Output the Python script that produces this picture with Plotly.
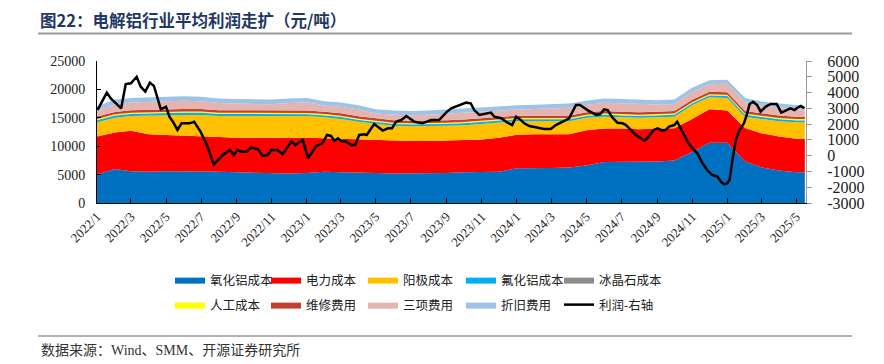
import pandas as pd
import plotly.graph_objects as go

# ---------------- data ----------------
month_dates = [d.strftime("%Y-%m-%d") for d in pd.date_range("2022-01-01", "2025-05-01", freq="MS")] + ["2025-05-16"]

alumina = [5000, 6000, 5600, 5500, 5600, 5600, 5600, 5500, 5400, 5300, 5200, 5200,
           5300, 5500, 5400, 5400, 5300, 5200, 5200, 5300, 5300, 5400, 5500, 5500,
           6100, 6100, 6150, 6250, 6600, 7200, 7250, 7250, 7300, 7500, 9000, 10600,
           10600, 7300, 6300, 5700, 5400, 5400]
power = [6700, 6400, 7100, 6600, 6350, 6200, 6100, 6100, 6100, 6200, 6400, 6300,
         6200, 5900, 5900, 5800, 5700, 5700, 5700, 5600, 5700, 5700, 5700, 6000,
         5900, 6000, 5950, 5850, 6200, 5900, 5850, 5750, 5800, 5650, 5800, 5900,
         5700, 5900, 6000, 6000, 5900, 5900]
anode = [2500, 2600, 2600, 3300, 3550, 3700, 3800, 3700, 3800, 3800, 3700, 3800,
         3800, 3700, 3500, 3100, 2900, 2700, 2600, 2600, 2600, 2600, 2700, 2600,
         2400, 2300, 2300, 2300, 2200, 2100, 2000, 2000, 2000, 2050, 2400, 2100,
         2200, 2000, 2500, 2700, 2900, 2900]
alf3 = [380, 380, 380, 380, 380, 380, 380, 380, 380, 380, 380, 380,
        320, 320, 320, 320, 320, 320, 320, 320, 320, 320, 320, 320,
        320, 320, 320, 320, 320, 320, 320, 320, 320, 320, 320, 330,
        340, 340, 340, 340, 340, 340]
cryolite = [50, 50, 50, 50, 50, 50, 50, 50, 50, 50, 50, 50,
            50, 50, 50, 50, 50, 50, 50, 50, 50, 50, 50, 50,
            50, 50, 50, 50, 50, 50, 50, 50, 50, 50, 50, 50,
            50, 50, 50, 50, 50, 50]
labor = [180, 180, 180, 180, 180, 180, 180, 180, 180, 180, 180, 180,
         180, 180, 180, 180, 180, 180, 180, 180, 180, 180, 180, 180,
         180, 180, 180, 180, 180, 180, 180, 180, 180, 180, 180, 180,
         180, 180, 180, 180, 180, 180]
maintenance = [430, 430, 430, 430, 430, 430, 430, 430, 430, 430, 430, 430,
               430, 430, 430, 430, 430, 430, 430, 430, 430, 430, 430, 430,
               430, 430, 430, 430, 430, 430, 430, 430, 430, 430, 430, 430,
               430, 430, 430, 430, 430, 430]
three_fees = [960, 1360, 1360, 1360, 1460, 1460, 1360, 1260, 1160, 1060, 1060, 1260,
              1470, 1070, 1170, 1170, 870, 970, 970, 1070, 1170, 1270, 1270, 1170,
              1070, 1170, 1270, 1370, 1270, 1470, 1470, 1470, 1270, 1270, 1370, 1300,
              1500, 1600, 1400, 1400, 1300, 1200]
depreciation = [800, 800, 800, 800, 800, 800, 800, 800, 800, 800, 800, 800,
                750, 750, 750, 750, 750, 750, 750, 750, 750, 750, 750, 750,
                750, 750, 750, 750, 750, 750, 750, 750, 750, 750, 750, 700,
                700, 700, 700, 700, 700, 700]

profit_dates = ["2022-01-02", "2022-01-18", "2022-01-25", "2022-02-12", "2022-02-20", "2022-03-01",
                "2022-03-11", "2022-03-18", "2022-03-26", "2022-04-03", "2022-04-10", "2022-04-22",
                "2022-05-01", "2022-05-07", "2022-05-13", "2022-05-21", "2022-05-28", "2022-06-11",
                "2022-06-19", "2022-06-30", "2022-07-10", "2022-07-23", "2022-08-08", "2022-08-20",
                "2022-08-27", "2022-09-02", "2022-09-09", "2022-09-18", "2022-09-26", "2022-10-08",
                "2022-10-16", "2022-10-25", "2022-10-31", "2022-11-11", "2022-11-20", "2022-12-05",
                "2022-12-12", "2022-12-25", "2023-01-03", "2023-01-17", "2023-01-28", "2023-02-05",
                "2023-02-12", "2023-02-18", "2023-02-24", "2023-03-03", "2023-03-10", "2023-03-19",
                "2023-03-26", "2023-04-02", "2023-04-11", "2023-04-15", "2023-04-28", "2023-05-13",
                "2023-05-22", "2023-05-29", "2023-06-05", "2023-06-14", "2023-06-23", "2023-07-07",
                "2023-07-21", "2023-08-05", "2023-08-19", "2023-08-31", "2023-09-09", "2023-09-20",
                "2023-10-05", "2023-10-13", "2023-10-19", "2023-10-28", "2023-11-06", "2023-11-17",
                "2023-11-23", "2023-12-05", "2023-12-16", "2023-12-24", "2023-12-31", "2024-01-07",
                "2024-01-14", "2024-01-23", "2024-02-03", "2024-02-17", "2024-02-29", "2024-03-09",
                "2024-03-21", "2024-04-01", "2024-04-13", "2024-04-20", "2024-05-03", "2024-05-18",
                "2024-05-25", "2024-06-01", "2024-06-07", "2024-06-15", "2024-06-24", "2024-07-03",
                "2024-07-09", "2024-07-17", "2024-07-26", "2024-08-04", "2024-08-10", "2024-08-15",
                "2024-08-26", "2024-09-02", "2024-09-10", "2024-09-16", "2024-09-22", "2024-10-01",
                "2024-10-06", "2024-10-15", "2024-10-24", "2024-11-01", "2024-11-10", "2024-11-19",
                "2024-11-27", "2024-12-06", "2024-12-15", "2024-12-21", "2024-12-27", "2025-01-01",
                "2025-01-05", "2025-01-10", "2025-01-16", "2025-01-21", "2025-01-30", "2025-02-04",
                "2025-02-09", "2025-02-15", "2025-02-22", "2025-02-28", "2025-03-09", "2025-03-18",
                "2025-03-28", "2025-04-05", "2025-04-13", "2025-04-21", "2025-04-28", "2025-05-03",
                "2025-05-09", "2025-05-15"]
profit = [2900, 4000, 3630, 3000, 4540, 4590, 5000, 4370, 4060, 4630, 4420, 2940,
          3100, 2470, 2150, 1630, 2050, 2050, 2150, 1520, 780, -550, 40, 360,
          40, 360, 250, 250, 530, 400, -20, 40, 360, 360, 90, 890,
          680, 990, -170, 610, 780, 1310, 1250, 950, 1100, 890, 890, 680,
          680, 1310, 1350, 1310, 2010, 1590, 1730, 1730, 2150, 2260, 2510, 2150,
          2050, 2260, 2260, 2730, 3000, 3150, 3360, 3320, 2890, 2580, 2640, 2730,
          2470, 2370, 2090, 1940, 2470, 2300, 2050, 1880, 1800, 1690, 1690, 1940,
          2150, 2370, 3210, 3210, 2890, 2580, 2640, 2940, 2890, 2430, 2090, 2050,
          1940, 1630, 1310, 1100, 950, 1100, 1630, 1730, 1590, 1630, 1840, 1940,
          2150, 1520, 890, 470, 150, -480, -910, -1230, -1330, -1650, -1820, -1750,
          -1540, -280, 990, 1520, 2050, 2580, 3280, 3420, 3210, 2790, 3110, 3280,
          3280, 2730, 2850, 3000, 2890, 3040, 3150, 3000]

series_names = ["氧化铝成本", "电力成本", "阳极成本", "氟化铝成本", "冰晶石成本",
                "人工成本", "维修费用", "三项费用", "折旧费用"]
series_values = [alumina, power, anode, alf3, cryolite, labor, maintenance, three_fees, depreciation]
series_colors = ["#0070C0", "#FF0000", "#FFC000", "#00B0F0", "#8C8C8C",
                 "#FFFF00", "#C0422F", "#E6B4B0", "#9DC3E6"]
profit_name = "利润-右轴"

left_ticks = [0, 5000, 10000, 15000, 20000, 25000]
right_ticks = [-3000, -2000, -1000, 0, 1000, 2000, 3000, 4000, 5000, 6000]
right_tick_text = ["-3000", "-2000", "-1000", "0", "1000", "2000", "3000", "4000", "5000", "6000"]

title_text = "图22：电解铝行业平均利润走扩（元/吨）"
source_text = "数据来源：Wind、SMM、开源证券研究所"

# ---------------- geometry (reference pixel coords; page body has an 8px margin) ----------------
OFF = 8
W, H = 884 - OFF, 364 - OFF
PL, PR, PT, PB = 97, 806, 61, 203


def px_x(p):
    return (p - PL) / (PR - PL)


def px_y(p):
    return (PB - p) / (PB - PT)


legend_cols = [170, 266, 363, 461, 559]
legend_rows = [265, 290]

fig = go.Figure()
all_names = series_names + [profit_name]
for i, (nm, vals, col) in enumerate(zip(series_names, series_values, series_colors)):
    fig.add_trace(go.Scatter(
        x=month_dates, y=vals, name=nm, mode="lines", stackgroup="cost",
        line=dict(width=0, color=col), fillcolor=col,
        legend="legend" if i == 0 else "legend%d" % (i + 1), hoverinfo="skip"))

fig.add_trace(go.Scatter(
    x=profit_dates, y=profit, name=profit_name, mode="lines", yaxis="y2",
    line=dict(color="#000000", width=2.5), legend="legend10", hoverinfo="skip"))

tick_font = dict(family="Liberation Serif, Times New Roman, serif", color="#222222")
legend_font = dict(family="Noto Sans CJK SC, sans-serif", size=12.5, color="#222222")

layout_legends = {}
for i in range(len(all_names)):
    key = "legend" if i == 0 else "legend%d" % (i + 1)
    layout_legends[key] = dict(
        orientation="h", x=px_x(legend_cols[i % 5]), xanchor="left",
        y=px_y(legend_rows[i // 5]), yanchor="top",
        font=legend_font, bgcolor="rgba(0,0,0,0)")

fig.update_layout(
    width=W, height=H,
    margin=dict(l=PL - OFF, r=W - (PR - OFF), t=PT - OFF, b=H - (PB - OFF), autoexpand=False),
    paper_bgcolor="white", plot_bgcolor="white",
    showlegend=True,
    xaxis=dict(type="date", range=["2022-01-01", "2025-05-18"],
               tick0="2022-01-01", dtick="M2", tickformat="%Y/%-m", tickangle=-45,
               showgrid=False, zeroline=False, showline=True, linecolor="#000000", linewidth=1,
               ticks="inside", ticklen=5, tickcolor="#000000",
               tickfont=dict(size=13, **tick_font), automargin=False),
    yaxis=dict(range=[0, 25000], tickvals=left_ticks, tickformat="d", showgrid=False, zeroline=False,
               showline=True, linecolor="#000000", linewidth=1,
               ticks="inside", ticklen=4, tickcolor="#000000",
               ticklabelstandoff=8,
               tickfont=dict(size=14, **tick_font), automargin=False),
    yaxis2=dict(overlaying="y", side="right", range=[-3000, 6000], tickvals=right_ticks,
                ticktext=right_tick_text,
                showgrid=False, zeroline=False, showline=True, linecolor="#999999", linewidth=1,
                ticks="outside", ticklen=5, tickcolor="#999999",
                ticklabelstandoff=12,
                tickfont=dict(size=16, **tick_font), automargin=False),
    **layout_legends,
)

fig.add_annotation(x=px_x(39), y=px_y(20), xref="paper", yref="paper", xanchor="left", yanchor="middle",
                   text="<b>" + title_text + "</b>", showarrow=False, borderpad=0,
                   font=dict(family="Noto Sans CJK SC, sans-serif", size=16.5, color="#1F3864"))
fig.add_annotation(x=px_x(39), y=px_y(350), xref="paper", yref="paper", xanchor="left", yanchor="middle",
                   text=source_text, showarrow=False,
                   font=dict(family="Liberation Serif, Noto Sans CJK SC, serif", size=14, color="#333333"))
fig.add_shape(type="line", xref="paper", yref="paper", x0=px_x(38), x1=px_x(852),
              y0=px_y(33.5), y1=px_y(33.5), line=dict(color="#9A9A9A", width=2))
fig.add_shape(type="line", xref="paper", yref="paper", x0=px_x(38), x1=px_x(852),
              y0=px_y(336), y1=px_y(336), line=dict(color="#666666", width=1))

fig.write_html("out.html")
